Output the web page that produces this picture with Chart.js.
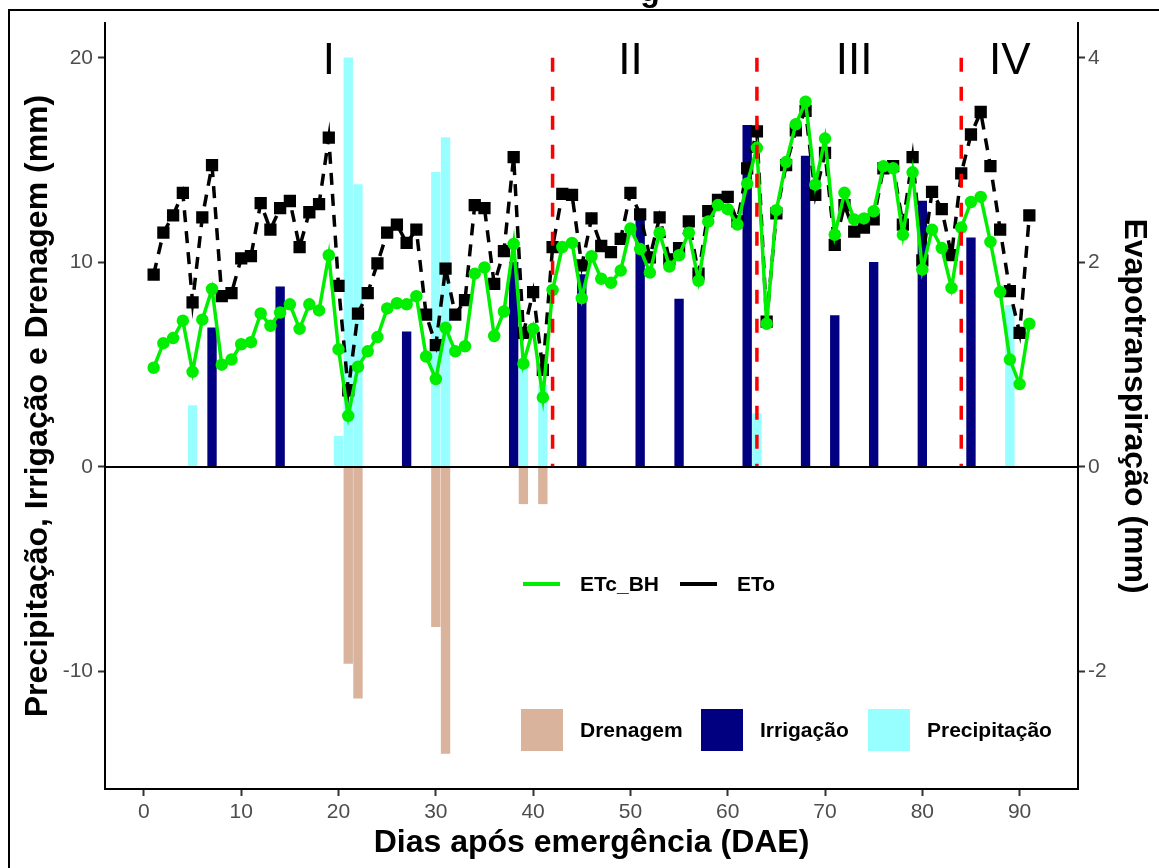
<!DOCTYPE html>
<html lang="pt">
<head>
<meta charset="utf-8">
<title>Balanço hídrico - DAE</title>
<script src="https://cdn.jsdelivr.net/npm/chart.js@4.4.1/dist/chart.umd.min.js"></script>
<style>
  html, body { margin: 0; padding: 0; background: #fff; }
  canvas { display: block; }
</style>
</head>
<body>
<canvas id="balanco" width="1159" height="868"></canvas>
<script>
/* ============================================================
   Balanço hídrico diário - barras (mm) + ET (mm, eixo direito)
   ============================================================ */

/* ---------- DADOS ---------- */
const dias = [
     1,  2,  3,  4,  5,  6,  7,  8,  9, 10, 11, 12, 13, 14, 15, 16, 17, 18, 19, 20,
    21, 22, 23, 24, 25, 26, 27, 28, 29, 30, 31, 32, 33, 34, 35, 36, 37, 38, 39, 40,
    41, 42, 43, 44, 45, 46, 47, 48, 49, 50, 51, 52, 53, 54, 55, 56, 57, 58, 59, 60,
    61, 62, 63, 64, 65, 66, 67, 68, 69, 70, 71, 72, 73, 74, 75, 76, 77, 78, 79, 80,
    81, 82, 83, 84, 85, 86, 87, 88, 89, 90, 91
];

// ETo (mm/dia)
const eto = [
    1.88, 2.29, 2.46, 2.68, 1.61, 2.44, 2.95, 1.67, 1.70, 2.04, 2.06, 2.58, 2.32, 2.53, 2.60, 2.15, 2.49, 2.57, 3.22, 1.77,
    0.75, 1.50, 1.70, 1.99, 2.29, 2.37, 2.19, 2.32, 1.49, 1.19, 1.94, 1.49, 1.63, 2.56, 2.53, 1.79, 2.11, 3.03, 1.31, 1.71,
    0.95, 2.15, 2.67, 2.66, 1.97, 2.43, 2.16, 2.10, 2.23, 2.68, 2.47, 2.05, 2.44, 2.03, 2.14, 2.40, 1.89, 2.50, 2.61, 2.64,
    2.40, 2.92, 3.28, 1.42, 2.48, 2.95, 3.29, 3.48, 2.66, 3.07, 2.17, 2.56, 2.30, 2.34, 2.42, 2.92, 2.94, 2.37, 3.03, 2.02,
    2.69, 2.52, 2.07, 2.87, 3.25, 3.47, 2.94, 2.32, 1.72, 1.31, 2.46
];

// ETc pelo balanço hídrico (mm/dia)
const etcBH = [
    0.97, 1.21, 1.26, 1.43, 0.93, 1.44, 1.74, 1.00, 1.05, 1.20, 1.22, 1.50, 1.38, 1.51, 1.59, 1.35, 1.59, 1.53, 2.07, 1.15,
    0.50, 0.98, 1.13, 1.27, 1.55, 1.60, 1.59, 1.67, 1.08, 0.86, 1.36, 1.13, 1.18, 1.89, 1.95, 1.28, 1.52, 2.18, 1.01, 1.35,
    0.68, 1.73, 2.15, 2.19, 1.65, 2.06, 1.84, 1.80, 1.92, 2.33, 2.13, 1.90, 2.29, 1.96, 2.07, 2.29, 1.82, 2.40, 2.56, 2.52,
    2.37, 2.77, 3.12, 1.40, 2.51, 2.98, 3.35, 3.57, 2.76, 3.21, 2.27, 2.68, 2.42, 2.43, 2.50, 2.94, 2.92, 2.27, 2.88, 1.93,
    2.32, 2.14, 1.75, 2.34, 2.59, 2.64, 2.20, 1.71, 1.05, 0.81, 1.40
];

const irrigDias = [7, 14, 27, 38, 45, 51, 55, 62, 68, 71, 75, 80, 85];
const irrigMm   = [6.8, 8.8, 6.6, 10.0, 9.4, 12.2, 8.2, 16.7, 15.2, 7.4, 10.0, 13.0, 11.2];

const precDias = [5, 20, 21, 22, 30, 31, 39, 41, 63, 89];
const precMm   = [3.0, 1.5, 20.0, 13.8, 14.4, 16.1, 5.2, 4.0, 2.6, 7.9];

const drenDias = [21, 22, 30, 31, 39, 41];
const drenMm   = [-9.6, -11.3, -7.8, -14.0, -1.8, -1.8];

// limites entre as fases e rótulos
const faseLimites = [42, 63, 84];
const faseLimiteTopo = 20;
const faseNomes  = ['I', 'II', 'III', 'IV'];
const faseNomeX  = [19, 50, 73, 89];
const faseNomeY  = 19.2;

const xTicks  = [0, 10, 20, 30, 40, 50, 60, 70, 80, 90];
const yTicks  = [-10, 0, 10, 20];
const y2Ticks = [-2, 0, 2, 4];

/* ---------- ESCALAS ---------- */
const X_MIN = -4, X_MAX = 96;
const Y_MIN = -15.74, Y_MAX = 21.70;
const ET_FATOR = 5;   // eixo secundário = eixo principal / 5

const CORES = {
    dren:  '#D9B39C',
    irrig: '#000080',
    prec:  '#97FFFF',
    etc:   '#00EE00',
    eto:   '#000000',
    fase:  '#FF0000',
    tick:  '#4d4d4d'
};
const FONTE = '"Liberation Sans", Arial, Helvetica, sans-serif';

const pares = (xs, ys) => xs.map((x, i) => ({ x: x, y: ys[i] }));

function barra(label, xs, ys, cor, ordem) {
    return {
        type: 'bar', label, data: pares(xs, ys),
        backgroundColor: cor, borderWidth: 0,
        barThickness: 8.7, grouped: false,
        yAxisID: 'y', order: ordem
    };
}

/* ---------- EXTRAS: limites de fase, linha do zero, legendas, moldura ---------- */
const extras = {
    id: 'extras',
    afterDatasetsDraw(chart) {
        const { ctx, chartArea: a, scales: { x, y } } = chart;
        ctx.save();

        // limites das fases (tracejado vermelho)
        ctx.strokeStyle = CORES.fase;
        ctx.lineWidth = 3.5;
        ctx.setLineDash([14, 15]);
        faseLimites.forEach(d => {
            const px = x.getPixelForValue(d);
            ctx.beginPath();
            ctx.moveTo(px, y.getPixelForValue(faseLimiteTopo));
            ctx.lineTo(px, y.getPixelForValue(0));
            ctx.stroke();
        });
        ctx.setLineDash([]);

        const y0 = Math.round(y.getPixelForValue(0));
        ctx.strokeStyle = '#000';
        ctx.lineWidth = 2;
        ctx.beginPath();
        ctx.moveTo(a.left, y0);
        ctx.lineTo(a.right, y0);
        ctx.stroke();

        ctx.fillStyle = '#000';
        ctx.font = '44px ' + FONTE;
        ctx.textAlign = 'center';
        ctx.textBaseline = 'alphabetic';
        faseNomes.forEach((t, i) => {
            ctx.fillText(t, x.getPixelForValue(faseNomeX[i]), y.getPixelForValue(faseNomeY));
        });
        ctx.restore();
    },
    afterDraw(chart) {
        const { ctx } = chart;
        ctx.save();

        // legenda das linhas
        ctx.font = 'bold 21px ' + FONTE;
        ctx.textAlign = 'left';
        ctx.textBaseline = 'middle';
        ctx.lineWidth = 4;
        [[523, CORES.etc, 'ETc_BH', 580], [680, CORES.eto, 'ETo', 737]].forEach(([lx, cor, txt, tx]) => {
            ctx.strokeStyle = cor;
            ctx.beginPath();
            ctx.moveTo(lx, 584);
            ctx.lineTo(lx + 37, 584);
            ctx.stroke();
            ctx.fillStyle = '#000';
            ctx.fillText(txt, tx, 585);
        });

        // legenda das barras
        [[521, CORES.dren, 'Drenagem', 580], [701, CORES.irrig, 'Irrigação', 760], [868, CORES.prec, 'Precipitação', 927]]
            .forEach(([qx, cor, txt, tx]) => {
                ctx.fillStyle = cor;
                ctx.fillRect(qx, 709, 42, 42);
                ctx.fillStyle = '#000';
                ctx.fillText(txt, tx, 731);
            });

        // moldura externa da figura e resto do título cortado
        ctx.strokeStyle = '#000';
        ctx.lineWidth = 2;
        ctx.strokeRect(9, 10, 1300, 1000);
        ctx.font = 'bold 32px ' + FONTE;
        ctx.textAlign = 'center';
        ctx.textBaseline = 'alphabetic';
        ctx.fillText('g', 650, 1);
        ctx.restore();
    }
};

/* ---------- GRÁFICO ---------- */
const tituloFonte = { family: FONTE, size: 32, weight: 'bold' };
const tickFonte = { family: FONTE, size: 21 };

new Chart(document.getElementById('balanco'), {
    type: 'bar',
    data: {
        datasets: [
            {
                type: 'line', label: 'ETc_BH', data: pares(dias, etcBH),
                borderColor: CORES.etc, backgroundColor: CORES.etc,
                borderWidth: 3.5, pointRadius: 4.5, pointStyle: 'circle',
                tension: 0, yAxisID: 'y2', order: 0
            },
            {
                type: 'line', label: 'ETo', data: pares(dias, eto),
                borderColor: CORES.eto, backgroundColor: CORES.eto,
                borderWidth: 3.5, borderDash: [12, 9],
                pointRadius: 6.2, pointStyle: 'rect',
                tension: 0, yAxisID: 'y2', order: 1
            },
            barra('Precipitação', precDias, precMm, CORES.prec, 3),
            barra('Irrigação', irrigDias, irrigMm, CORES.irrig, 4),
            barra('Drenagem', drenDias, drenMm, CORES.dren, 5)
        ]
    },
    options: {
        responsive: false,
        devicePixelRatio: 1,
        animation: false,
        layout: { padding: { top: 23, left: 0, right: 0, bottom: 0 } },
        plugins: {
            legend: { display: false },
            tooltip: { enabled: false }
        },
        scales: {
            x: {
                type: 'linear', position: 'bottom',
                min: X_MIN, max: X_MAX, offset: false,
                afterBuildTicks: s => { s.ticks = xTicks.map(v => ({ value: v })); },
                afterFit: s => { s.height = 79; },
                grid: { display: true, drawOnChartArea: false, offset: false, tickLength: 7, tickColor: '#333', tickWidth: 2 },
                border: { display: true, color: '#000', width: 2 },
                ticks: { font: tickFonte, color: CORES.tick, padding: 4, maxRotation: 0, autoSkip: false },
                title: { display: true, text: 'Dias após emergência (DAE)', font: tituloFonte, color: '#000', padding: { top: 0, bottom: 6 } }
            },
            y: {
                type: 'linear', position: 'left',
                min: Y_MIN, max: Y_MAX,
                afterBuildTicks: s => { s.ticks = yTicks.map(v => ({ value: v })); },
                afterFit: s => { s.width = 105; },
                grid: { display: true, drawOnChartArea: false, tickLength: 7, tickColor: '#333', tickWidth: 2 },
                border: { display: true, color: '#000', width: 2 },
                ticks: { font: tickFonte, color: CORES.tick, padding: 5 },
                title: { display: true, text: 'Precipitação, Irrigação e Drenagem (mm)', font: tituloFonte, color: '#000', padding: { top: 19, bottom: 0 } }
            },
            y2: {
                type: 'linear', position: 'right',
                min: Y_MIN / ET_FATOR, max: Y_MAX / ET_FATOR,
                afterBuildTicks: s => { s.ticks = y2Ticks.map(v => ({ value: v })); },
                afterFit: s => { s.width = 81; },
                grid: { display: true, drawOnChartArea: false, tickLength: 7, tickColor: '#333', tickWidth: 2 },
                border: { display: true, color: '#000', width: 2 },
                ticks: { font: tickFonte, color: CORES.tick, padding: 3 },
                title: { display: true, text: 'Evapotranspiração (mm)', font: tituloFonte, color: '#000', padding: { top: 6, bottom: 0 } }
            }
        }
    },
    plugins: [extras]
});
</script>
</body>
</html>
